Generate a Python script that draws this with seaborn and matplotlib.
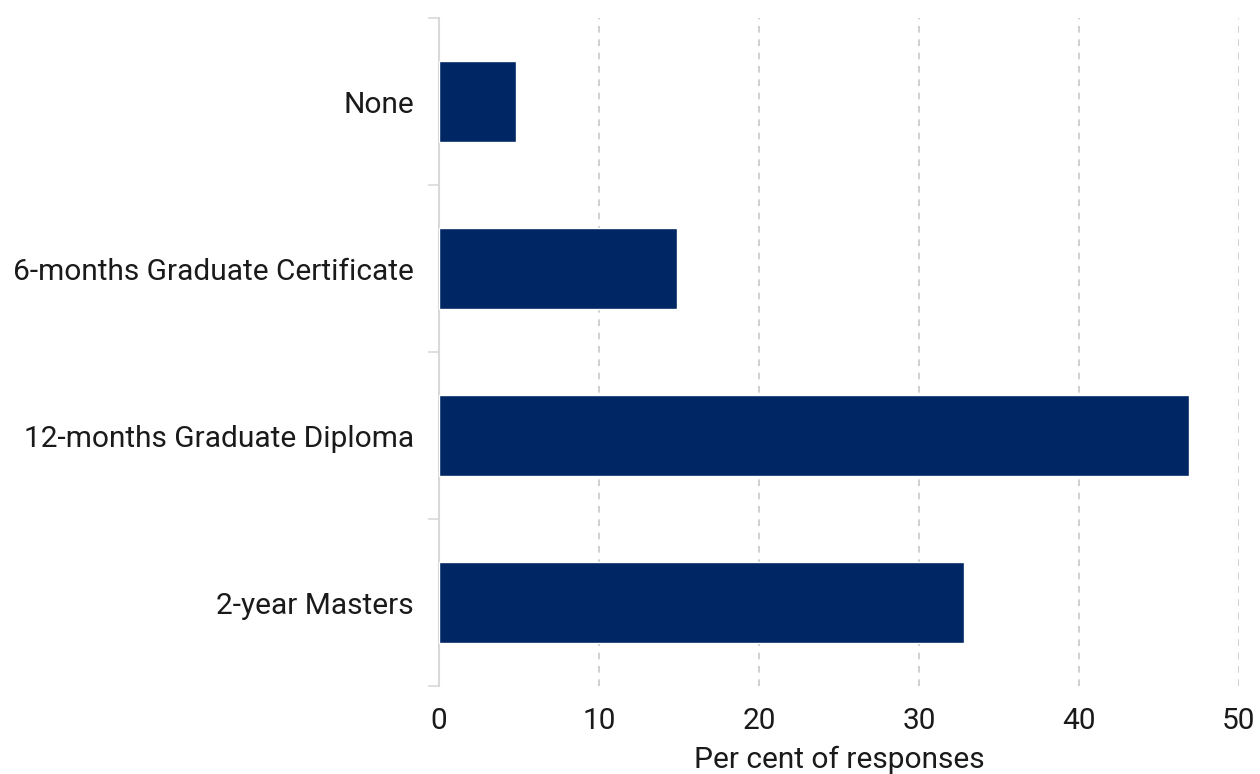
import matplotlib
matplotlib.use("Agg")
import matplotlib.pyplot as plt
import seaborn as sns
import pandas as pd

categories = ["None", "6-months Graduate Certificate", "12-months Graduate Diploma", "2-year Masters"]
values = [4.8, 14.9, 46.9, 32.8]
xticks = [0, 10, 20, 30, 40, 50]

sns.set_theme(style="white")
plt.rcParams['font.family'] = ['Roboto', 'DejaVu Sans']

df = pd.DataFrame({"category": categories, "value": values})

fig = plt.figure(figsize=(12.6, 7.74), dpi=100)
ax = fig.add_axes([0.3484, 0.1137, 0.6349, 0.863])

sns.barplot(data=df, y="category", x="value", orient="h", color="#002664",
            width=0.49, saturation=1, ax=ax, zorder=3)

FS = 21.5
TXT = "#1a1a1a"
ax.set_xlim(0, 50)
ax.set_ylim(3.5, -0.5)
ax.set_xticks(xticks)
ax.set_xticklabels([str(t) for t in xticks], fontsize=FS, color=TXT)
ax.tick_params(axis="x", length=0, pad=15)
ax.set_yticks(range(len(categories)))
ax.set_yticklabels(categories, fontsize=FS, color=TXT)
ax.tick_params(axis="y", which="major", length=0, pad=18)
ax.set_yticks([-0.5, 0.5, 1.5, 2.5, 3.5], minor=True)
ax.tick_params(axis="y", which="minor", length=8, color="#d9d9d9", width=1.2, left=True)

ax.set_xlabel("Per cent of responses", fontsize=FS, color=TXT, labelpad=8)
ax.set_ylabel("")

for t in xticks[1:]:
    ax.axvline(t, color="#c8c8c8", linestyle=(0, (4, 4)), linewidth=1.2, zorder=1)

for s in ["top", "right", "bottom"]:
    ax.spines[s].set_visible(False)
ax.spines["left"].set_color("#d9d9d9")
ax.spines["left"].set_linewidth(1.5)

fig.savefig("out.png", dpi=100)
